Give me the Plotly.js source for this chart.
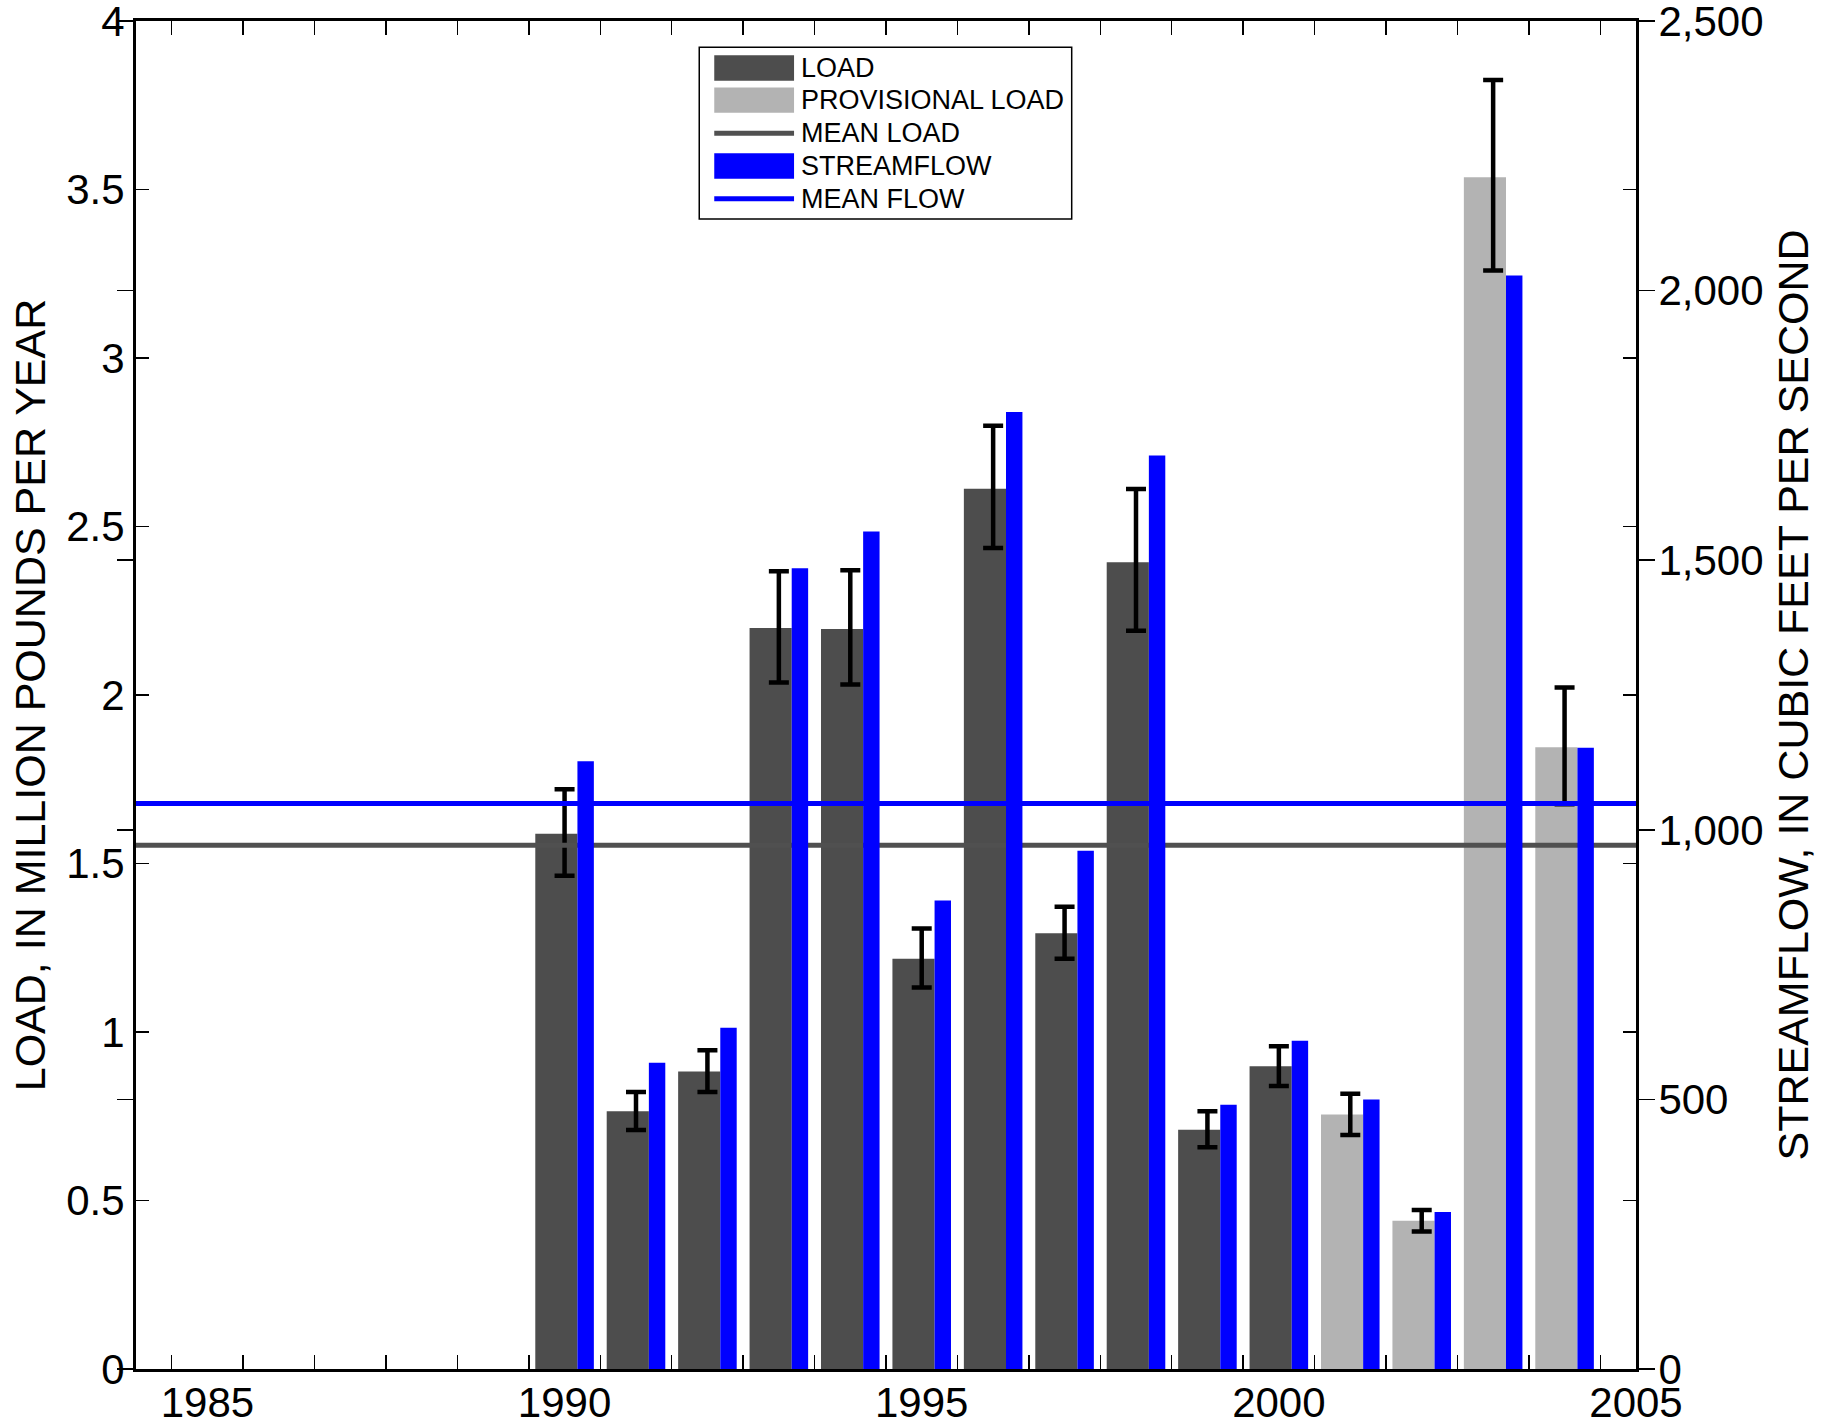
<!DOCTYPE html>
<html>
<head>
<meta charset="utf-8">
<script src="https://cdn.plot.ly/plotly-3.0.1.min.js"></script>
<style>
  html, body { margin: 0; padding: 0; background: #ffffff; }
  #chart { width: 1839px; height: 1424px; }
</style>
</head>
<body>
<div id="chart"></div>
<script>
// ---- Data ----
var loadYears = [1990, 1991, 1992, 1993, 1994, 1995, 1996, 1997, 1998, 1999, 2000];
var loadValues = [1.588, 0.765, 0.883, 2.199, 2.196, 1.217, 2.612, 1.293, 2.394, 0.710, 0.898];

var provYears = [2001, 2002, 2003, 2004];
var provValues = [0.755, 0.440, 3.536, 1.845];

var allYears = [1990, 1991, 1992, 1993, 1994, 1995, 1996, 1997, 1998, 1999, 2000, 2001, 2002, 2003, 2004];
var errUpper = [1.720, 0.822, 0.946, 2.367, 2.370, 1.307, 2.799, 1.372, 2.611, 0.765, 0.958, 0.817, 0.472, 3.825, 2.022];
var errLower = [1.464, 0.709, 0.822, 2.037, 2.031, 1.132, 2.436, 1.217, 2.191, 0.658, 0.840, 0.694, 0.408, 3.260, 1.676];

var flowValues = [1127, 568, 633, 1485, 1553, 869, 1775, 961, 1694, 490, 609, 500, 291, 2028, 1152];

var meanLoad = 1.554;
var meanFlow = 1049;

var xRange = [1984, 2005];
var loadRange = [0, 4];
var flowRange = [0, 2500];

var legendLabels = ["LOAD", "PROVISIONAL LOAD", "MEAN LOAD", "STREAMFLOW", "MEAN FLOW"];
var leftTitle = "LOAD, IN MILLION POUNDS PER YEAR";
var rightTitle = "STREAMFLOW, IN CUBIC FEET PER SECOND";

// ---- Styles ----
var C_LOAD = "#4d4d4d";
var C_PROV = "#b3b3b3";
var C_FLOW = "#0000ff";
var C_MEANLOAD = "#505050";
var FONT = "Liberation Sans, Arial, Helvetica, sans-serif";

var allLoad = loadValues.concat(provValues);
var errPlus = allLoad.map(function (v, i) { return errUpper[i] - v; });
var errMinus = allLoad.map(function (v, i) { return v - errLower[i]; });

var traces = [
  {
    type: "bar", name: legendLabels[0], x: loadYears, y: loadValues,
    xaxis: "x", yaxis: "y", width: 0.59, offset: -0.41,
    marker: { color: C_LOAD, line: { width: 0 } }, showlegend: false, hoverinfo: "x+y"
  },
  {
    type: "bar", name: legendLabels[1], x: provYears, y: provValues,
    xaxis: "x", yaxis: "y", width: 0.59, offset: -0.41,
    marker: { color: C_PROV, line: { width: 0 } }, showlegend: false, hoverinfo: "x+y"
  },
  {
    type: "scatter", mode: "markers", x: allYears, y: allLoad,
    xaxis: "x", yaxis: "y",
    marker: { size: 1, color: "rgba(0,0,0,0)" },
    error_y: { type: "data", symmetric: false, array: errPlus, arrayminus: errMinus,
               color: "#000000", thickness: 4.5, width: 10 },
    showlegend: false, hoverinfo: "skip"
  },
  {
    type: "scatter", mode: "lines", name: legendLabels[2], x: xRange, y: [meanLoad, meanLoad],
    xaxis: "x", yaxis: "y", line: { color: C_MEANLOAD, width: 5 }, showlegend: false
  },
  {
    type: "bar", name: legendLabels[3], x: allYears, y: flowValues,
    xaxis: "x", yaxis: "y2", width: 0.23, offset: 0.18,
    marker: { color: C_FLOW, line: { width: 0 } }, showlegend: false
  },
  {
    type: "scatter", mode: "lines", name: legendLabels[4], x: xRange, y: [meanFlow, meanFlow],
    xaxis: "x", yaxis: "y2", line: { color: C_FLOW, width: 5 }, showlegend: false
  }
];

// ---- Manual legend (paper coordinates) ----
var legendBox = { x0: 0.3755, x1: 0.6238, y0: 0.8531, y1: 0.9805 };
var swX0 = 0.3855, swX1 = 0.4387, textX = 0.4422;
var rowY = [0.9651, 0.9413, 0.9167, 0.8924, 0.8681];
var swHalf = 0.0094;
var shapes = [
  { type: "rect", xref: "paper", yref: "paper", x0: legendBox.x0, x1: legendBox.x1, y0: legendBox.y0, y1: legendBox.y1,
    line: { color: "#000000", width: 1.5 }, fillcolor: "#ffffff", layer: "above" },
  { type: "rect", xref: "paper", yref: "paper", x0: swX0, x1: swX1, y0: rowY[0] - swHalf, y1: rowY[0] + swHalf,
    line: { width: 0 }, fillcolor: C_LOAD, layer: "above" },
  { type: "rect", xref: "paper", yref: "paper", x0: swX0, x1: swX1, y0: rowY[1] - swHalf, y1: rowY[1] + swHalf,
    line: { width: 0 }, fillcolor: C_PROV, layer: "above" },
  { type: "line", xref: "paper", yref: "paper", x0: swX0, x1: swX1, y0: rowY[2], y1: rowY[2],
    line: { color: C_MEANLOAD, width: 5 }, layer: "above" },
  { type: "rect", xref: "paper", yref: "paper", x0: swX0, x1: swX1, y0: rowY[3] - swHalf, y1: rowY[3] + swHalf,
    line: { width: 0 }, fillcolor: C_FLOW, layer: "above" },
  { type: "line", xref: "paper", yref: "paper", x0: swX0, x1: swX1, y0: rowY[4], y1: rowY[4],
    line: { color: C_FLOW, width: 5 }, layer: "above" }
];
var annotations = legendLabels.map(function (t, i) {
  return { xref: "paper", yref: "paper", x: textX, y: rowY[i], text: t, showarrow: false,
           xanchor: "left", yanchor: "middle", font: { family: FONT, size: 27, color: "#000000" } };
});

var layout = {
  width: 1839, height: 1424,
  margin: { l: 136, r: 203, t: 21, b: 55, pad: 0 },
  paper_bgcolor: "#ffffff", plot_bgcolor: "#ffffff",
  font: { family: FONT, color: "#000000" },
  showlegend: false,
  barmode: "overlay",
  xaxis: {
    range: xRange, tickmode: "linear", tick0: 1985, dtick: 5, ticks: "",
    showline: true, linecolor: "#000000", linewidth: 3, mirror: "ticks",
    showgrid: false, zeroline: false, tickformat: "d",
    ticklabeloverflow: "allow", ticklabelstandoff: -5,
    tickfont: { family: FONT, size: 42, color: "#000000" },
    minor: { ticks: "inside", tick0: 1984.5, dtick: 1, ticklen: 14, tickwidth: 1.5, tickcolor: "#000000", showgrid: false }
  },
  yaxis: {
    range: loadRange, tickmode: "linear", tick0: 0, dtick: 0.5,
    ticks: "inside", ticklen: 13, tickwidth: 1.5, tickcolor: "#000000",
    showline: true, linecolor: "#000000", linewidth: 3, mirror: "ticks",
    showgrid: false, zeroline: false, ticklabeloverflow: "allow",
    tickfont: { family: FONT, size: 42, color: "#000000" },
    title: { text: leftTitle, font: { family: FONT, size: 43, color: "#000000" }, standoff: 8 }
  },
  yaxis2: {
    overlaying: "y", side: "right", anchor: "x",
    range: flowRange, tickmode: "linear", tick0: 0, dtick: 500, tickformat: ",",
    ticks: "outside", ticklen: 16, tickwidth: 1.5, tickcolor: "#000000",
    showline: true, linecolor: "#000000", linewidth: 3, mirror: "ticks",
    showgrid: false, zeroline: false, ticklabeloverflow: "allow", ticklabelstandoff: -5,
    tickfont: { family: FONT, size: 42, color: "#000000" },
    title: { text: rightTitle, font: { family: FONT, size: 43, color: "#000000" }, standoff: 16 }
  },
  shapes: shapes,
  annotations: annotations
};

Plotly.newPlot("chart", traces, layout, { displayModeBar: false, staticPlot: true });
</script>
</body>
</html>
